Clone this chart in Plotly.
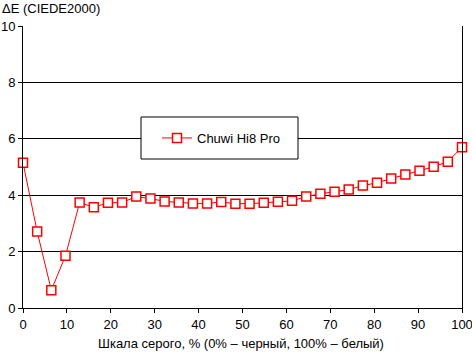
import plotly.graph_objects as go

gray_levels = [i * 100 / 31 for i in range(32)]
delta_e = [5.15, 2.71, 0.63, 1.85, 3.74, 3.57, 3.73, 3.74, 3.95, 3.88, 3.78, 3.74,
           3.71, 3.71, 3.76, 3.70, 3.70, 3.73, 3.77, 3.80, 3.95, 4.05, 4.12, 4.20,
           4.34, 4.44, 4.59, 4.73, 4.87, 5.01, 5.19, 5.70]
series_name = "Chuwi Hi8 Pro"
x_ticks = list(range(0, 101, 10))
y_ticks = list(range(0, 11, 2))

FONT = "Liberation Sans, Arial, sans-serif"
FS = 13
PW, PH = 439, 282

fig = go.Figure()
fig.add_trace(go.Scatter(
    x=gray_levels, y=delta_e, name=series_name, mode="lines+markers",
    line=dict(color="#ff0000", width=1),
    marker=dict(symbol="square", size=9, color="white",
                line=dict(color="#ff0000", width=1.5)),
    showlegend=True, cliponaxis=False,
))

fig.update_layout(
    width=472, height=352,
    margin=dict(l=23, r=10, t=26, b=44, autoexpand=False),
    paper_bgcolor="white", plot_bgcolor="white",
    font=dict(family=FONT, size=FS, color="black"),
    showlegend=True,
    legend=dict(x=(157 - 23) / PW, y=(308 - 138) / PH, xanchor="left", yanchor="middle",
                bgcolor="rgba(0,0,0,0)", borderwidth=0,
                font=dict(family=FONT, size=FS, color="black")),
    shapes=[dict(type="rect", xref="paper", yref="paper",
                 x0=(141 - 23) / PW, x1=(298 - 23) / PW,
                 y0=(308 - 159) / PH, y1=(308 - 117) / PH,
                 line=dict(color="black", width=1), fillcolor="white",
                 layer="above")],
    xaxis=dict(range=[0, 100], tickvals=x_ticks, showgrid=False,
               showline=True, linecolor="black", linewidth=1,
               ticks="outside", ticklen=4, tickcolor="black",
               zeroline=False, automargin=False, ticklabeloverflow="allow"),
    yaxis=dict(range=[0, 10], tickvals=y_ticks, showgrid=True,
               gridcolor="black", gridwidth=1,
               showline=True, linecolor="black", linewidth=1, mirror=True,
               ticks="outside", ticklen=4, tickcolor="black",
               zeroline=False, automargin=False, ticklabeloverflow="allow"),
    annotations=[
        dict(text="ΔE (CIEDE2000)", xref="paper", yref="paper",
             x=-23 / PW, y=1 + 18 / PH, xanchor="left",
             yanchor="middle", showarrow=False,
             font=dict(family=FONT, size=FS, color="black")),
        dict(text="Шкала серого, % (0% – черный, 100% – белый)",
             xref="paper", yref="paper",
             x=(241 - 23) / PW, y=-(343 - 308) / PH, xanchor="center",
             yanchor="middle", showarrow=False,
             font=dict(family=FONT, size=FS, color="black")),
    ],
)

fig.write_html("out.html")
